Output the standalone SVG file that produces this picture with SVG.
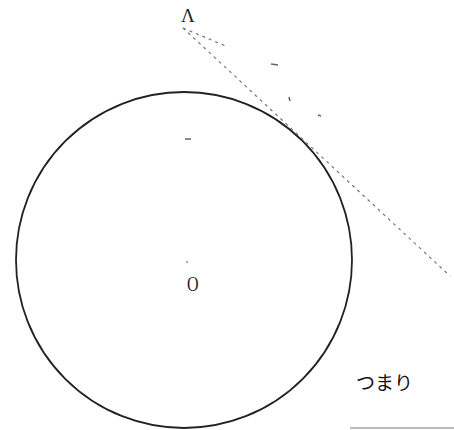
<svg xmlns="http://www.w3.org/2000/svg" width="454" height="430" viewBox="0 0 454 430">
<style>
.lbl{font-family:"Liberation Serif",serif;fill:#222}
.jp{font-family:"Noto Sans CJK JP",sans-serif;fill:#111}
.tan{stroke:#777;stroke-width:1.2;fill:none;stroke-dasharray:3 4}
.mark{stroke:#666;stroke-width:1.5}
</style>
<rect width="454" height="430" fill="#fff"/>
<g id="circle">
<circle cx="184" cy="260" r="168" fill="none" stroke="#222" stroke-width="1.8"/>
<circle cx="187" cy="262" r="1" fill="#888"/>
<text class="lbl" x="187" y="291" font-size="20" transform="translate(187 291) scale(0.8 1) translate(-187 -291)">O</text>
</g>
<g id="pointA">
<text class="lbl" x="181" y="22" font-size="19">Λ</text>
</g>
<g id="connectors">
<path class="tan" d="M183 28 L450 276"/>
<path class="tan" d="M183 28 L228 47" stroke-dasharray="2 4"/>
<line class="mark" x1="271" y1="64" x2="278" y2="65"/>
<line class="mark" x1="185" y1="139" x2="191" y2="139"/>
<line class="mark" x1="318" y1="115" x2="321" y2="116"/>
<line class="mark" x1="289" y1="97" x2="290" y2="101"/>
</g>
<g id="note">
<text class="jp" x="356" y="390" font-size="19">つまり</text>
<line x1="350" y1="428" x2="454" y2="428" stroke="#bbb" stroke-width="2"/>
</g>
</svg>
